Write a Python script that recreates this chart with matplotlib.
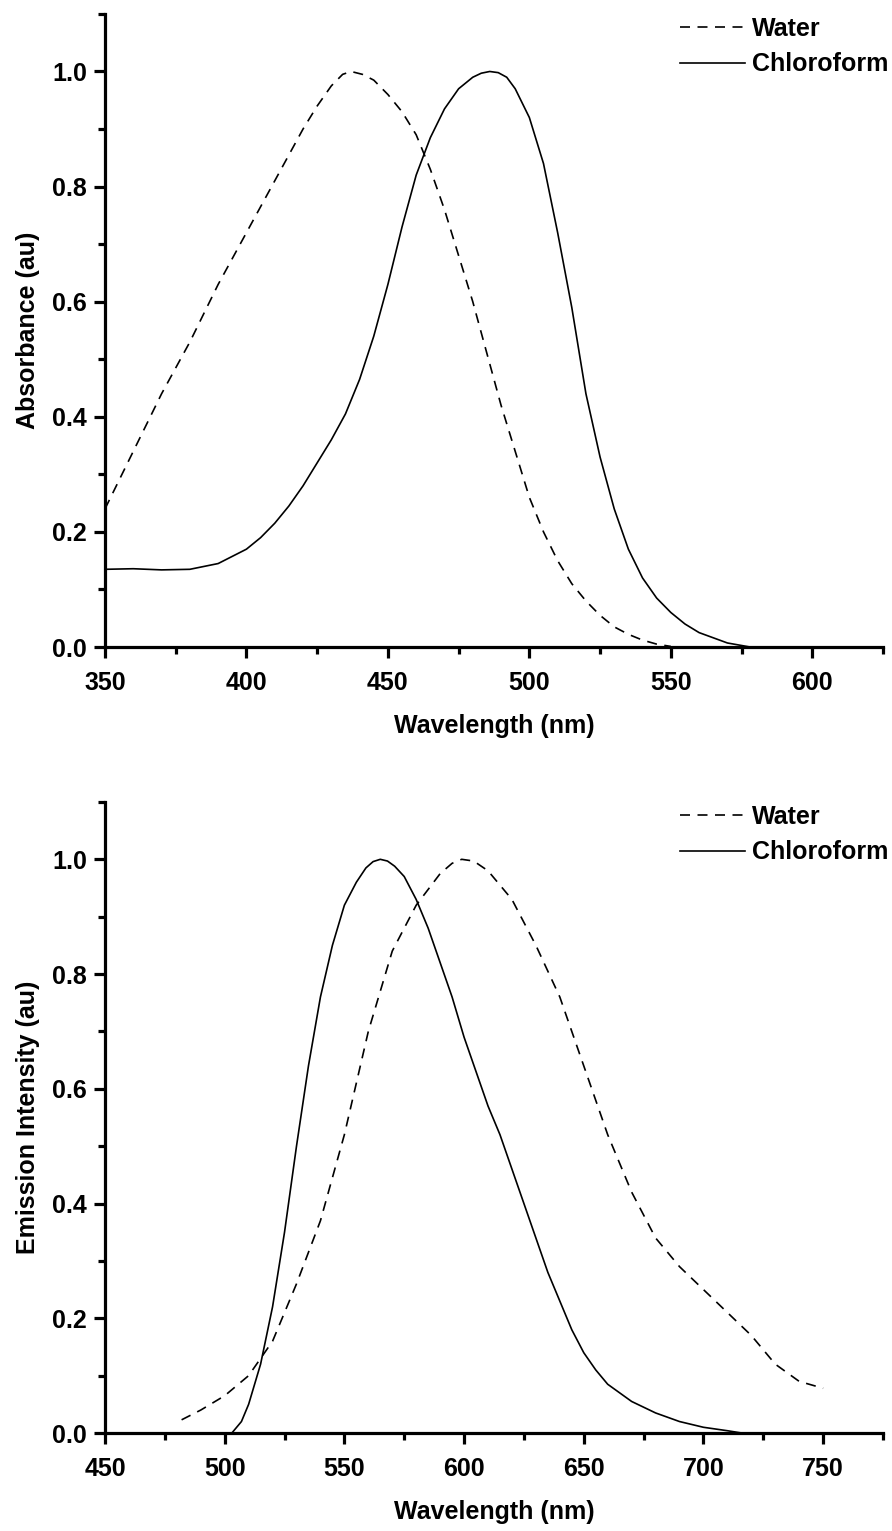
import matplotlib
matplotlib.use('Agg')
import matplotlib.pyplot as plt
from matplotlib.ticker import MultipleLocator

plt.rcParams['font.family'] = ['Liberation Sans', 'DejaVu Sans']
plt.rcParams['font.weight'] = 'bold'

# absorbance spectra
abs_water_nm = [350, 360, 370, 380, 390, 400, 410, 420, 425, 430, 434, 437, 441, 445, 450, 455, 460,
                465, 470, 475, 480, 485, 490, 495, 500, 505, 510, 515, 520, 525, 530, 535,
                540, 545, 550]
abs_water = [0.24, 0.34, 0.44, 0.53, 0.63, 0.72, 0.81, 0.90, 0.94, 0.975, 0.995, 1.0, 0.995, 0.985, 0.96, 0.93, 0.89,
             0.83, 0.76, 0.68, 0.60, 0.51, 0.42, 0.34, 0.26, 0.20, 0.15, 0.11, 0.08, 0.055, 0.035, 0.022,
             0.012, 0.005, 0.001]

abs_chcl3_nm = [350, 360, 370, 380, 390, 400, 405, 410, 415, 420, 425, 430, 435, 440, 445, 450,
                455, 460, 465, 470, 475, 480, 483, 486, 489, 492, 495, 500, 505, 510, 515, 520, 525, 530,
                535, 540, 545, 550, 555, 560, 570, 578]
abs_chcl3 = [0.135, 0.136, 0.134, 0.135, 0.145, 0.17, 0.19, 0.215, 0.245, 0.28, 0.32, 0.36, 0.405, 0.465, 0.54, 0.63,
             0.73, 0.82, 0.885, 0.935, 0.97, 0.99, 0.997, 1.0, 0.998, 0.99, 0.97, 0.92, 0.84, 0.72, 0.59, 0.44, 0.33, 0.24,
             0.17, 0.12, 0.085, 0.06, 0.04, 0.025, 0.007, 0.0]

# emission spectra
em_water_nm = [482, 490, 500, 510, 520, 530, 540, 550, 560, 570, 580, 590, 595, 599, 604, 610, 620,
               630, 640, 650, 660, 670, 680, 690, 700, 710, 720, 730, 740, 750]
em_water = [0.023, 0.04, 0.065, 0.10, 0.16, 0.26, 0.37, 0.52, 0.70, 0.84, 0.92, 0.975, 0.993, 1.0, 0.997, 0.98, 0.93,
            0.85, 0.76, 0.64, 0.52, 0.42, 0.34, 0.29, 0.25, 0.21, 0.17, 0.12, 0.09, 0.078]

em_chcl3_nm = [503, 507, 510, 515, 520, 525, 530, 535, 540, 545, 550, 555, 559, 562, 565, 568, 571, 575,
               580, 585, 590, 595, 600, 605, 610, 615, 620, 625, 630, 635, 640, 645, 650, 655,
               660, 670, 680, 690, 700, 710, 716]
em_chcl3 = [0.0, 0.02, 0.05, 0.12, 0.22, 0.35, 0.50, 0.64, 0.76, 0.85, 0.92, 0.96, 0.985, 0.996, 1.0, 0.997, 0.988, 0.97,
            0.93, 0.88, 0.82, 0.76, 0.69, 0.63, 0.57, 0.52, 0.46, 0.40, 0.34, 0.28, 0.23, 0.18, 0.14, 0.11,
            0.085, 0.055, 0.035, 0.02, 0.01, 0.004, 0.0]

fig = plt.figure(figsize=(8.92, 15.31), dpi=100)
ax1 = fig.add_axes([0.1177, 0.5774, 0.8722, 0.4135])
ax2 = fig.add_axes([0.1177, 0.0640, 0.8722, 0.4122])

lw = 1.2
dash = (0, (6, 4.5))
fs = 18


def style(ax, xlim, xmajor):
    ax.set_xlim(*xlim)
    ax.set_ylim(0, 1.1)
    ax.xaxis.set_major_locator(MultipleLocator(xmajor))
    ax.xaxis.set_minor_locator(MultipleLocator(xmajor / 2))
    ax.yaxis.set_major_locator(MultipleLocator(0.2))
    ax.yaxis.set_minor_locator(MultipleLocator(0.1))
    ax.yaxis.set_major_formatter(plt.FormatStrFormatter('%.1f'))
    for s in ['top', 'right']:
        ax.spines[s].set_visible(False)
    for s in ['left', 'bottom']:
        ax.spines[s].set_linewidth(2.3)
        ax.spines[s].set_capstyle('projecting')
    ax.tick_params(which='major', direction='out', length=8, width=2.3, labelsize=fs)
    ax.tick_params(which='minor', direction='out', length=5, width=2.3)
    ax.tick_params(axis='x', which='major', pad=9)
    ax.tick_params(axis='y', which='major', pad=5)
    ax.set_xlabel('Wavelength (nm)', fontsize=fs, fontweight='bold', labelpad=14)
    for t in ax.get_xticklabels() + ax.get_yticklabels():
        t.set_fontweight('bold')


ax1.plot(abs_water_nm, abs_water, color='black', lw=lw, linestyle=dash, label='Water')
ax1.plot(abs_chcl3_nm, abs_chcl3, color='black', lw=lw, label='Chloroform')
style(ax1, (350, 625), 50)
ax1.set_ylabel('Absorbance (au)', fontsize=fs, fontweight='bold', labelpad=9)

ax2.plot(em_water_nm, em_water, color='black', lw=lw, linestyle=dash, label='Water')
ax2.plot(em_chcl3_nm, em_chcl3, color='black', lw=lw, label='Chloroform')
style(ax2, (450, 775), 50)
ax2.set_ylabel('Emission Intensity (au)', fontsize=fs, fontweight='bold', labelpad=9)

for ax in (ax1, ax2):
    ax.legend(loc='upper left', bbox_to_anchor=(0.739, 0.995), frameon=False,
              prop={'size': fs, 'weight': 'bold'}, handlelength=2.6, handletextpad=0.28,
              borderpad=0, borderaxespad=0, labelspacing=0.45)

fig.savefig('out.png', dpi=100)
